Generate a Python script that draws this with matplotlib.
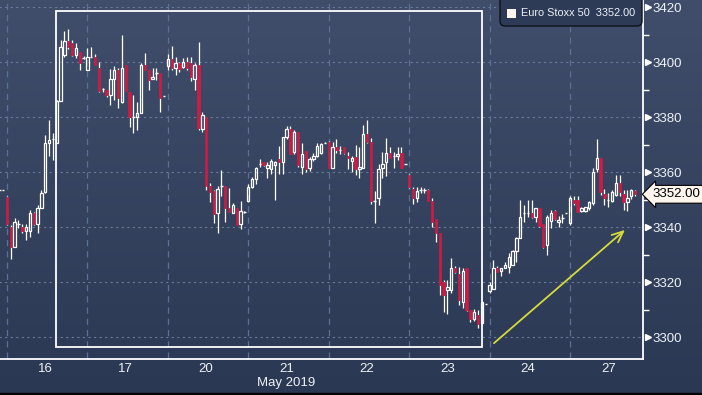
import numpy as np
import matplotlib.pyplot as plt
from matplotlib import transforms
from matplotlib.colors import LinearSegmentedColormap
from matplotlib.patches import Rectangle, FancyBboxPatch

plt.rcParams['font.family'] = ['Liberation Sans', 'DejaVu Sans']

# (open, high, low, close) per candle, one list per trading day
day15 = [(3353.6, 3353.6, 3353.6, 3353.6),
         (3353.6, 3353.6, 3353.6, 3353.6)]

day16 = [(3350.9, 3351.4, 3340.8, 3341.2), (3340.0, 3340.8, 3328.4, 3333.0),
         (3333.0, 3343.3, 3333.0, 3342.1), (3341.2, 3342.7, 3339.6, 3341.2),
         (3340.0, 3341.2, 3337.8, 3338.8), (3338.8, 3341.2, 3335.4, 3340.0),
         (3338.8, 3346.3, 3336.6, 3345.3), (3345.1, 3345.7, 3340.8, 3341.2),
         (3341.2, 3348.1, 3337.8, 3346.9), (3346.9, 3353.6, 3346.9, 3352.4),
         (3353.0, 3373.6, 3352.4, 3370.8), (3370.8, 3379.0, 3366.0, 3371.8),
         (3372.1, 3374.2, 3364.5, 3372.1), (3370.8, 3386.3, 3370.5, 3385.9),
         (3385.9, 3408.1, 3385.9, 3405.7), (3402.5, 3411.2, 3401.8, 3407.9),
         (3407.9, 3412.0, 3405.0, 3405.7), (3406.9, 3408.1, 3402.3, 3402.7),
         (3402.7, 3406.9, 3401.5, 3405.1), (3403.9, 3403.9, 3397.2, 3399.9),
         (3401.5, 3402.3, 3401.2, 3401.5)]

day17 = [(3397.2, 3405.1, 3397.2, 3401.8), (3401.8, 3405.7, 3401.8, 3401.8),
         (3401.8, 3403.0, 3399.0, 3399.0), (3397.8, 3400.2, 3389.3, 3389.7),
         (3390.2, 3390.6, 3389.3, 3390.2), (3389.9, 3389.9, 3387.3, 3388.1),
         (3388.1, 3397.5, 3384.5, 3393.8), (3393.8, 3398.6, 3386.3, 3397.2),
         (3397.2, 3397.8, 3383.3, 3386.9), (3385.7, 3409.9, 3385.3, 3397.8),
         (3399.0, 3399.0, 3389.7, 3389.7), (3389.3, 3389.3, 3376.4, 3380.0),
         (3380.0, 3388.1, 3374.2, 3380.0), (3380.0, 3385.7, 3375.4, 3381.7),
         (3381.7, 3399.6, 3381.7, 3399.0), (3399.0, 3403.3, 3397.2, 3397.2),
         (3397.2, 3397.2, 3389.9, 3393.6), (3393.8, 3397.8, 3393.8, 3394.8),
         (3396.2, 3397.8, 3393.6, 3396.2), (3396.0, 3396.0, 3382.1, 3386.9),
         (3387.8, 3387.8, 3387.8, 3387.8)]

day20 = [(3398.7, 3403.0, 3397.2, 3401.1), (3401.1, 3405.9, 3397.2, 3397.8),
         (3397.8, 3401.8, 3395.4, 3399.9), (3399.9, 3400.2, 3396.4, 3397.5),
         (3398.4, 3401.5, 3397.8, 3400.2), (3400.2, 3401.8, 3397.2, 3397.8),
         (3399.9, 3401.8, 3393.3, 3394.8), (3393.8, 3399.9, 3389.9, 3399.0),
         (3399.0, 3407.2, 3375.2, 3376.0), (3375.6, 3382.1, 3374.8, 3380.8),
         (3380.0, 3380.2, 3353.6, 3355.0), (3355.0, 3356.0, 3349.3, 3353.0),
         (3353.3, 3353.6, 3341.5, 3344.8), (3345.1, 3355.0, 3337.8, 3353.8),
         (3355.0, 3361.0, 3351.2, 3355.0), (3355.0, 3355.0, 3342.1, 3346.9),
         (3346.9, 3354.2, 3345.7, 3345.7), (3345.3, 3349.0, 3345.3, 3348.1),
         (3346.9, 3346.9, 3340.8, 3340.8), (3341.2, 3349.7, 3339.3, 3346.1),
         (3345.7, 3346.1, 3345.3, 3345.7)]

day21 = [(3349.7, 3355.8, 3349.1, 3354.8), (3354.5, 3358.2, 3354.3, 3357.6),
         (3357.6, 3361.8, 3355.8, 3361.6), (3363.0, 3364.8, 3361.8, 3363.0),
         (3363.9, 3363.9, 3362.4, 3362.8), (3361.6, 3363.6, 3357.9, 3362.8),
         (3361.2, 3364.8, 3359.4, 3364.2), (3362.8, 3364.2, 3349.9, 3363.9),
         (3364.8, 3369.7, 3359.4, 3363.6), (3363.6, 3373.0, 3359.2, 3372.7),
         (3372.7, 3377.0, 3372.1, 3375.8), (3375.8, 3377.0, 3366.7, 3366.7),
         (3367.3, 3375.2, 3366.7, 3374.5), (3374.5, 3374.5, 3362.1, 3362.8),
         (3361.8, 3370.5, 3359.2, 3366.7), (3367.6, 3367.9, 3360.0, 3361.2),
         (3361.6, 3365.5, 3360.6, 3364.8), (3364.8, 3366.9, 3364.2, 3366.1),
         (3366.1, 3370.5, 3365.5, 3369.7), (3366.9, 3370.5, 3366.7, 3370.3),
         (3370.7, 3370.9, 3370.5, 3370.7)]

day22 = [(3370.9, 3371.4, 3361.5, 3361.7), (3361.7, 3371.1, 3361.7, 3369.3),
         (3369.3, 3372.1, 3367.0, 3368.1), (3368.1, 3369.7, 3366.5, 3368.1),
         (3369.3, 3369.3, 3366.5, 3366.9), (3365.9, 3367.5, 3361.3, 3365.1),
         (3364.0, 3366.1, 3360.1, 3365.3), (3365.7, 3369.9, 3359.0, 3361.2),
         (3361.2, 3369.3, 3358.0, 3362.1), (3361.7, 3377.2, 3361.7, 3373.8),
         (3373.8, 3379.0, 3370.5, 3370.9), (3370.9, 3372.4, 3348.4, 3349.6),
         (3349.6, 3353.2, 3341.5, 3349.6), (3350.8, 3362.9, 3348.1, 3361.2),
         (3361.7, 3367.5, 3358.0, 3362.9), (3363.9, 3372.4, 3358.5, 3366.9),
         (3366.9, 3369.3, 3365.3, 3365.3), (3366.1, 3367.5, 3361.5, 3366.1),
         (3366.1, 3369.3, 3364.5, 3366.7), (3366.9, 3369.3, 3361.7, 3361.7),
         (3362.9, 3362.9, 3362.9, 3362.9)]

day23 = [(3359.0, 3359.3, 3354.2, 3354.8), (3353.9, 3354.8, 3348.4, 3350.8),
         (3350.8, 3354.8, 3349.3, 3353.2), (3353.6, 3354.5, 3352.4, 3353.6),
         (3353.6, 3354.2, 3352.4, 3353.6), (3353.6, 3353.9, 3349.6, 3349.6),
         (3349.6, 3350.8, 3340.2, 3341.8), (3343.0, 3343.0, 3334.5, 3337.8),
         (3337.8, 3337.8, 3315.4, 3319.0), (3320.0, 3320.8, 3309.3, 3315.2),
         (3317.2, 3320.8, 3308.4, 3318.2), (3317.2, 3329.0, 3316.0, 3325.1),
         (3325.1, 3326.1, 3323.5, 3323.9), (3322.9, 3325.7, 3311.8, 3313.6),
         (3313.0, 3325.1, 3310.7, 3324.1), (3325.1, 3325.1, 3309.5, 3309.9),
         (3309.9, 3309.9, 3305.7, 3306.7), (3306.7, 3310.3, 3306.0, 3309.1),
         (3308.1, 3310.0, 3303.3, 3304.7), (3305.1, 3313.3, 3304.7, 3313.0),
         (3312.0, 3312.0, 3312.0, 3312.0)]

day24 = [(3316.8, 3320.0, 3316.0, 3319.0), (3317.6, 3328.1, 3317.6, 3325.1),
         (3325.1, 3325.9, 3323.6, 3323.9), (3324.1, 3325.3, 3322.4, 3325.1),
         (3325.3, 3327.3, 3325.1, 3326.3), (3325.7, 3330.5, 3323.3, 3329.3),
         (3326.3, 3331.8, 3326.3, 3331.2), (3331.2, 3336.6, 3327.5, 3336.0),
         (3336.0, 3349.9, 3336.0, 3343.9), (3345.1, 3348.1, 3342.1, 3345.1),
         (3345.1, 3349.9, 3343.9, 3345.1), (3345.1, 3349.9, 3343.5, 3343.9),
         (3343.9, 3346.9, 3342.1, 3346.9), (3346.9, 3346.9, 3340.2, 3340.6),
         (3341.1, 3341.1, 3332.4, 3333.0), (3333.6, 3344.5, 3330.0, 3343.9),
         (3342.3, 3346.3, 3339.6, 3345.1), (3345.9, 3346.3, 3342.7, 3343.0),
         (3341.8, 3344.2, 3340.2, 3342.7), (3343.3, 3344.7, 3341.5, 3343.3),
         (3345.1, 3345.1, 3345.1, 3345.1)]

day27 = [(3341.5, 3351.2, 3340.8, 3350.8), (3349.9, 3351.2, 3348.1, 3348.7),
         (3349.9, 3351.2, 3345.5, 3345.7), (3345.9, 3347.2, 3345.5, 3346.9),
         (3345.9, 3347.5, 3345.7, 3347.2), (3346.9, 3349.6, 3346.3, 3349.1),
         (3348.7, 3361.5, 3348.1, 3360.2), (3361.2, 3372.1, 3360.2, 3365.1),
         (3365.1, 3365.1, 3351.8, 3353.0), (3352.0, 3353.9, 3348.1, 3350.8),
         (3350.0, 3352.4, 3347.5, 3350.0), (3349.6, 3353.6, 3349.1, 3353.0),
         (3351.8, 3359.0, 3351.5, 3356.0), (3356.0, 3359.0, 3351.5, 3353.0),
         (3352.0, 3353.6, 3346.3, 3349.1), (3349.1, 3353.6, 3345.9, 3350.8),
         (3351.2, 3353.9, 3350.3, 3353.6), (3353.2, 3353.6, 3351.2, 3352.0)]

days = [day16, day17, day20, day21, day22, day23, day24, day27]
day_labels = ['16', '17', '20', '21', '22', '23', '24', '27']
price_ticks = [3300, 3320, 3340, 3360, 3380, 3400, 3420]
minor_ticks = [3310, 3330, 3350, 3370, 3390, 3410]
last_price = 3352.00
series_name = 'Euro Stoxx 50'
month_label = 'May 2019'

BARS_PER_DAY = 21
RED = '#cc1c44'
FG = '#eef2f7'

fig = plt.figure(figsize=(7.02, 3.95), dpi=100)

# background gradient
cmap = LinearSegmentedColormap.from_list('bg', ['#414e6b', '#2b3854'])
bg = fig.add_axes([0, 0, 1, 1], zorder=-10)
bg.imshow(np.linspace(0, 1, 256).reshape(-1, 1), cmap=cmap, aspect='auto',
          extent=[0, 1, 0, 1])
bg.axis('off')
fig.patches.append(Rectangle((0, 0), 1, 2 / 395, transform=fig.transFigure,
                             color='black', zorder=-5))

ax = fig.add_axes([0, 36 / 395, 643 / 702, 359 / 395])
ax.set_facecolor('none')

# collect candles with their positions
candles = []
for j, c in enumerate(day15):
    candles.append((j - len(day15), c))
for d, day in enumerate(days):
    for k, c in enumerate(day):
        candles.append((d * BARS_PER_DAY + k, c))

w = 0.62
for x, (o, h, l, c) in candles:
    top, bot = max(o, c), min(o, c)
    ax.vlines(x, top, h, color='white', lw=0.9, zorder=3)
    ax.vlines(x, l, bot, color='white', lw=0.9, zorder=3)
    if abs(c - o) < 0.5:
        ax.hlines(o, x - w / 2, x + w / 2, color='white', lw=1.0, zorder=3)
    elif c > o:
        ax.add_patch(Rectangle((x - w / 2, bot), w, top - bot, fill=False,
                               ec='white', lw=0.9, zorder=3))
    else:
        ax.add_patch(Rectangle((x - w / 2, bot), w, top - bot, fc=RED,
                               ec=RED, lw=0.5, zorder=3))

ax.set_xlim(-1.83, 166.06)
ax.set_ylim(3292.1, 3422.65)

# grid
day_starts = [d * BARS_PER_DAY for d in range(len(days))]
ax.hlines(price_ticks, -5, 170, color='#6a7a9c', lw=0.8,
          linestyle=(0, (2, 3)), zorder=1)
ax.vlines(day_starts, 3280, 3430, color='#5a7195', lw=0.9,
          linestyle=(0, (5, 4)), zorder=1)

for s in ['top', 'left']:
    ax.spines[s].set_visible(False)
for s in ['right', 'bottom']:
    ax.spines[s].set_color('white')
    ax.spines[s].set_linewidth(1.3)

ax.yaxis.tick_right()
ax.set_yticks(price_ticks)
ax.set_yticklabels([str(p) for p in price_ticks])
ax.set_yticks(minor_ticks, minor=True)
ax.tick_params(axis='y', which='major', length=0, pad=7, labelsize=9.5,
               labelcolor=FG)
ax.tick_params(axis='y', which='minor', length=4, width=1, color='white')
tr = transforms.blended_transform_factory(ax.transAxes, ax.transData)
ax.plot([1.0075] * len(price_ticks), price_ticks, ls='none', marker='>',
        ms=5, color='white', transform=tr, clip_on=False)

centers = [s + 10 for s in day_starts]
ax.set_xticks(centers)
ax.set_xticklabels(day_labels)
ax.tick_params(axis='x', length=0, pad=3, labelsize=9.5, labelcolor=FG)
trx = transforms.blended_transform_factory(ax.transData, ax.transAxes)
ax.text(centers[3], -0.067, month_label, transform=trx, ha='center',
        va='center', fontsize=9.5, color=FG)

# highlight box and arrow
ax.add_patch(Rectangle((12.9, 3296.5), 111.0, 122.3, fill=False, ec='white',
                       lw=1.3, zorder=5))
ax.annotate('', xy=(161.9, 3339.7), xytext=(126.6, 3297.2),
            arrowprops=dict(arrowstyle='->,head_length=0.8,head_width=0.35',
                            color='#d6db3a', lw=1.3), zorder=6)

# last price tag
ax.text(1.0 + 9 / 643, last_price, f'{last_price:.2f}', transform=tr,
        ha='left', va='center', fontsize=9.5, color='black', zorder=10,
        bbox=dict(boxstyle='larrow,pad=0.22', fc='#fdf5ee', ec='black',
                  lw=0.8), clip_on=False)

# legend
fig.patches.append(FancyBboxPatch((5.0, 3.69), 1.42, 0.40,
                                  boxstyle='round,pad=0,rounding_size=0.05',
                                  transform=fig.dpi_scale_trans,
                                  fc='#2e3b57', ec='#0e121a', lw=1.0,
                                  zorder=8))
fig.patches.append(Rectangle((5.07, 3.77), 0.09, 0.09,
                             transform=fig.dpi_scale_trans, fc='#fff5ee',
                             ec='none', zorder=9))
fig.text(521 / 702, (395 - 13.5) / 395,
         f'{series_name}  {last_price:.2f}', fontsize=7.8, color=FG,
         va='center', ha='left', zorder=10)

fig.savefig('out.png', dpi=100)
